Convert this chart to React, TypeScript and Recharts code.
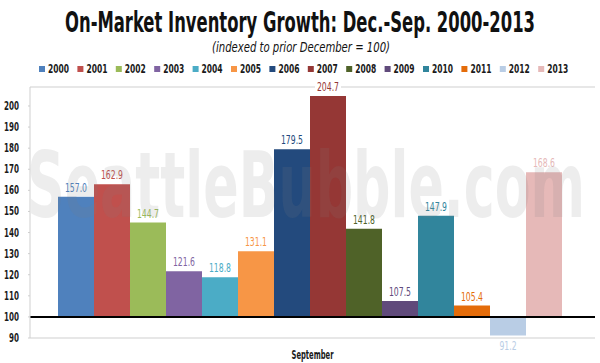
import React from "react";
import {
  BarChart, Bar, XAxis, YAxis, CartesianGrid, ReferenceLine,
} from "recharts";

// シリーズ（年）ごとの値: 前年12月 = 100 とした9月の在庫指数
const years = ["2000", "2001", "2002", "2003", "2004", "2005", "2006", "2007", "2008", "2009", "2010", "2011", "2012", "2013"];
const values = [157.0, 162.9, 144.7, 121.6, 118.8, 131.1, 179.5, 204.7, 141.8, 107.5, 147.9, 105.4, 91.2, 168.6];
const colors = [
  "#4F81BD", "#C0504D", "#9BBB59", "#8064A2", "#4BACC6", "#F79646", "#234A7D",
  "#953735", "#4F6228", "#604A7B", "#31859C", "#E46C0A", "#B9CDE5", "#E6B9B8",
];
const categories = ["September"];
const yTicks = [90, 100, 110, 120, 130, 140, 150, 160, 170, 180, 190, 200];
const BASE = 100;

const FONT = '"Liberation Sans Narrow", "DejaVu Sans Condensed", "Roboto", sans-serif';

// 細長いフォントの代わりに textLength で横幅を詰める
const narrowLen = (s: string, digit: number) =>
  s.split("").reduce((a, c) => a + (c === "." ? digit * 0.5 : digit), 0);

// 棒は基準値100から伸びる範囲バーにする
const chartData = categories.map(name => {
  const row: Record<string, unknown> = { name };
  years.forEach((y, i) => { row[`y${y}`] = [BASE, values[i]]; });
  return row;
});

// 値ラベル（白背景つき）
const makeLabel = (i: number) => (props: any) => {
  const { x, y, width, height } = props;
  const v = values[i];
  const s = v.toFixed(1);
  const top = Math.min(y, y + height);
  const bottom = Math.max(y, y + height);
  const cx = x + width / 2;
  const cy = v >= BASE ? top - 9 : bottom + 11;
  const len = narrowLen(s, 4.9);
  return (
    <g>
      <rect x={cx - len / 2 - 2} y={cy - 7} width={len + 4} height={14} fill="#fff" />
      <text
        x={cx} y={cy} textAnchor="middle" dominantBaseline="central"
        fill={colors[i]} fontSize={12} fontFamily={FONT}
        textLength={len} lengthAdjust="spacingAndGlyphs"
      >
        {s}
      </text>
    </g>
  );
};

const YTick = (props: any) => {
  const { x, y, payload } = props;
  const s = String(payload.value);
  return (
    <text
      x={x} y={y} textAnchor="end" dominantBaseline="central"
      fontSize={12} fontWeight="bold" fill="#1a1a1a" fontFamily={FONT}
      textLength={narrowLen(s, 5)} lengthAdjust="spacingAndGlyphs"
    >
      {s}
    </text>
  );
};

const XTick = (props: any) => {
  const { x, y, payload } = props;
  return (
    <text
      x={x} y={y + 6} textAnchor="middle" dominantBaseline="central"
      fontSize={13} fontWeight="bold" fill="#1a1a1a" fontFamily={FONT}
      textLength={42} lengthAdjust="spacingAndGlyphs"
    >
      {payload.value}
    </text>
  );
};

function LegendRow() {
  return (
    <svg width={600} height={20} style={{ position: "absolute", left: 0, top: 60, pointerEvents: "none" }}>
      {years.map((y, i) => (
        <g key={y} transform={`translate(${39 + i * 38.4}, 9)`}>
          <rect x={0} y={-3} width={6} height={6} fill={colors[i]} />
          <text
            x={9} y={0} dominantBaseline="central" fontSize={12} fontWeight="bold"
            fill="#1a1a1a" fontFamily={FONT} textLength={21} lengthAdjust="spacingAndGlyphs"
          >
            {y}
          </text>
        </g>
      ))}
    </svg>
  );
}

export default function App() {
  return (
    <div style={{ position: "absolute", left: 0, top: 0, width: 600, height: 363, background: "#fff" }}>
      <BarChart
        width={600}
        height={363}
        data={chartData}
        margin={{ top: 87, right: 5, left: 0, bottom: 0 }}
        barCategoryGap={28}
        barGap={0}
      >
        <CartesianGrid vertical={false} stroke="#cfcfcf" />
        <XAxis
          dataKey="name"
          height={25}
          axisLine={false}
          tickLine={false}
          tickSize={6}
          tickMargin={4}
          tick={<XTick />}
        />
        <YAxis
          yAxisId="l"
          width={30}
          domain={[90, 209]}
          ticks={yTicks}
          interval={0}
          allowDataOverflow
          axisLine={{ stroke: "#cfcfcf" }}
          tickLine={{ stroke: "#cfcfcf" }}
          tickSize={2}
          tickMargin={9}
          tick={<YTick />}
        />
        <YAxis
          yAxisId="r"
          orientation="right"
          width={0}
          domain={[90, 209]}
          ticks={yTicks}
          interval={0}
          tick={false}
          tickLine={false}
          axisLine={{ stroke: "#cfcfcf" }}
        />
        {years.map((y, i) => (
          <Bar
            key={y}
            yAxisId="l"
            dataKey={`y${y}`}
            fill={colors[i]}
            isAnimationActive={false}
            label={makeLabel(i)}
          />
        ))}
        <ReferenceLine yAxisId="l" y={BASE} stroke="#000" strokeWidth={2} />
      </BarChart>

      <svg width={600} height={363} style={{ position: "absolute", left: 0, top: 0, pointerEvents: "none" }}>
        <text
          x={300} y={32} textAnchor="middle" fontFamily={FONT} fontWeight="bold"
          fontSize={28} fill="#111" textLength={470} lengthAdjust="spacingAndGlyphs"
        >
          On-Market Inventory Growth: Dec.-Sep. 2000-2013
        </text>
        <text
          x={301} y={52} textAnchor="middle" fontFamily={FONT} fontStyle="italic"
          fontSize={14} fill="#111" textLength={178} lengthAdjust="spacingAndGlyphs"
        >
          (indexed to prior December = 100)
        </text>
        <text
          x={27} y={217} fontFamily={FONT} fontWeight="bold" fontSize={90}
          fill="#808080" fillOpacity={0.14} textLength={558} lengthAdjust="spacingAndGlyphs"
        >
          SeattleBubble.com
        </text>
      </svg>
      <LegendRow />
    </div>
  );
}
